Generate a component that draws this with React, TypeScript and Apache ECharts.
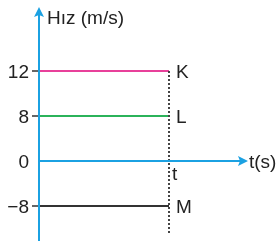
import React, { useEffect, useRef } from 'react';
import * as echarts from 'echarts';

const yCategories = ['−8', '0', '8', '12'];
const seriesNames = ['K', 'L', 'M'];
const seriesValues = ['12', '8', '−8'];
const seriesColors = ['#e8409a', '#2bb35a', '#333333'];
const tValue = 1;
const xMax = 1.6;
const yTitle = 'Hız (m/s)';
const xTitle = 't(s)';
const tLabel = 't';

export default function App() {
  const ref = useRef<HTMLDivElement>(null);
  useEffect(() => {
    const chart = echarts.init(ref.current!, null, { renderer: 'svg' });
    const font = '"Liberation Sans", Arial, sans-serif';
    const fs = 19;
    const blue = '#1ba1e2';
    const textColor = '#222';
    const tickInterval = (_i: number, v: string) => v !== '0';
    chart.setOption({
      animation: false,
      grid: { left: 39, right: 31, top: 71, bottom: 38 },
      xAxis: { type: 'value', min: 0, max: xMax, show: false },
      yAxis: [
        {
          type: 'category',
          boundaryGap: false,
          data: yCategories,
          position: 'left',
          axisLine: { show: false },
          splitLine: { show: false },
          axisTick: { show: true, length: 7, interval: tickInterval, lineStyle: { color: '#333', width: 1.5 } },
          axisLabel: { fontSize: fs, color: textColor, fontFamily: font, margin: 10 },
        },
        {
          type: 'category',
          boundaryGap: false,
          data: yCategories,
          position: 'left',
          axisLine: { show: false },
          splitLine: { show: false },
          axisTick: { show: true, inside: true, length: 6, interval: tickInterval, lineStyle: { color: '#333', width: 1.5 } },
          axisLabel: { show: false },
        },
      ],
      series: seriesNames.map((name, i) => ({
        type: 'line',
        name,
        data: [
          { value: [0, seriesValues[i]] },
          {
            value: [tValue, seriesValues[i]],
            label: { show: true, position: 'right', distance: 7, formatter: name, color: textColor, fontSize: fs, fontFamily: font },
          },
        ],
        symbol: 'circle',
        symbolSize: 0,
        showSymbol: true,
        lineStyle: { color: seriesColors[i], width: 2 },
        z: 3,
      })),
    });

    const zeroIdx = yCategories.indexOf('0');
    const [x0, y0] = chart.convertToPixel({ gridIndex: 0 }, [0, zeroIdx]) as number[];
    const [tx] = chart.convertToPixel({ gridIndex: 0 }, [tValue, zeroIdx]) as number[];
    const [xEnd] = chart.convertToPixel({ gridIndex: 0 }, [xMax, zeroIdx]) as number[];
    const topIdx = yCategories.indexOf('12');
    const [, yTop] = chart.convertToPixel({ gridIndex: 0 }, [0, topIdx]) as number[];

    chart.setOption({
      graphic: [
        { type: 'line', shape: { x1: x0, y1: 241, x2: x0, y2: 14 }, style: { stroke: blue, lineWidth: 2 }, z: 5 },
        { type: 'polygon', shape: { points: [[x0, 7], [x0 - 5, 17], [x0, 15], [x0 + 5, 17]] }, style: { fill: blue }, z: 5 },
        { type: 'line', shape: { x1: x0, y1: y0, x2: xEnd - 5, y2: y0 }, style: { stroke: blue, lineWidth: 2 }, z: 5 },
        { type: 'polygon', shape: { points: [[xEnd + 1, y0], [xEnd - 9, y0 - 5], [xEnd - 7, y0], [xEnd - 9, y0 + 5]] }, style: { fill: blue }, z: 5 },
        { type: 'line', shape: { x1: tx, y1: yTop, x2: tx, y2: 235 }, style: { stroke: '#444', lineWidth: 2, lineDash: [2, 2] }, z: 4 },
        { type: 'text', x: tx + 3, y: y0 + 3, style: { text: tLabel, fill: textColor, font: `${fs}px ${font}`, textVerticalAlign: 'top' }, z: 6 },
        { type: 'text', x: xEnd + 2, y: y0, style: { text: xTitle, fill: textColor, font: `${fs}px ${font}`, textVerticalAlign: 'middle' }, z: 6 },
        { type: 'text', x: x0 + 8, y: 17, style: { text: yTitle, fill: textColor, font: `${fs}px ${font}`, textVerticalAlign: 'middle' }, z: 6 },
      ],
    });

    return () => chart.dispose();
  }, []);
  return <div ref={ref} style={{ position: 'fixed', left: 0, top: 0, width: 278, height: 244 }} />;
}
